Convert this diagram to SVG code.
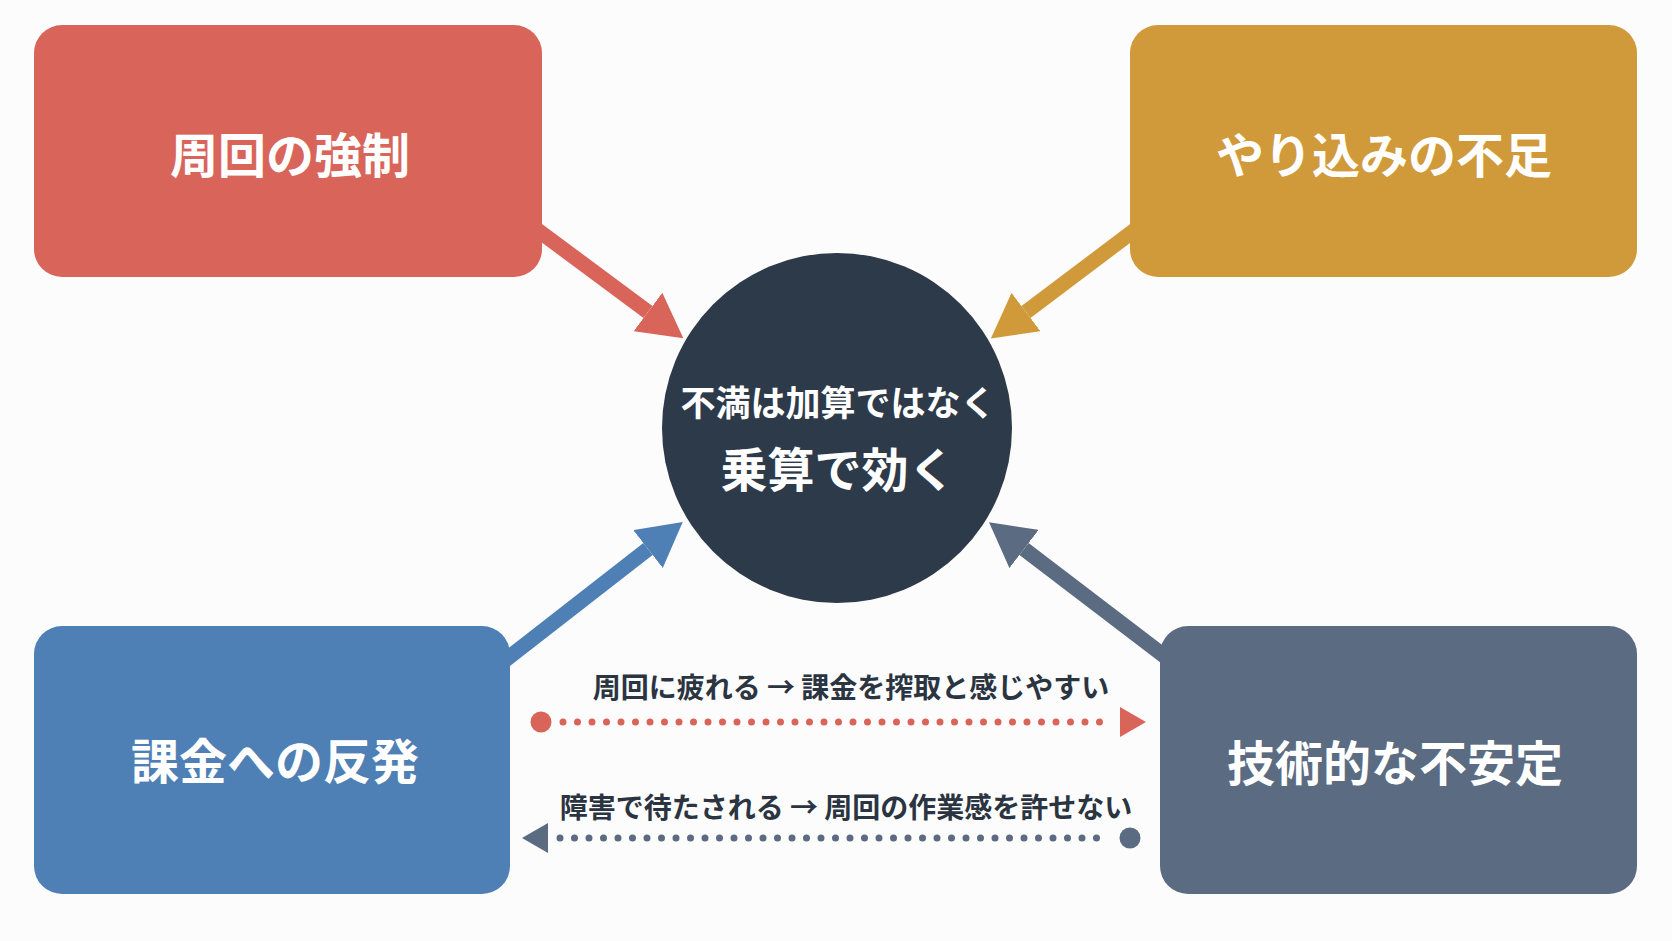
<svg xmlns="http://www.w3.org/2000/svg" width="1672" height="941" viewBox="0 0 1672 941">
<defs>
<style>
.t{font-family:"Noto Sans CJK JP","Noto Sans CJK SC",sans-serif;font-weight:700;text-anchor:middle;dominant-baseline:central}
.big{fill:#ffffff;font-size:48px}
.lbl{fill:#2b3441;font-size:28px}
.shaft{stroke-width:15;fill:none}
.dots{stroke-width:7;stroke-linecap:round;stroke-dasharray:0 14.5;fill:none}
</style>
<marker id="hr" markerUnits="userSpaceOnUse" markerWidth="46" markerHeight="48" refX="0" refY="24" orient="auto"><path d="M0,0 L44,24 L0,48 z" fill="#d9655a"/></marker>
<marker id="hy" markerUnits="userSpaceOnUse" markerWidth="46" markerHeight="48" refX="0" refY="24" orient="auto"><path d="M0,0 L44,24 L0,48 z" fill="#d09a3a"/></marker>
<marker id="hb" markerUnits="userSpaceOnUse" markerWidth="46" markerHeight="48" refX="0" refY="24" orient="auto"><path d="M0,0 L44,24 L0,48 z" fill="#4e7fb5"/></marker>
<marker id="hs" markerUnits="userSpaceOnUse" markerWidth="46" markerHeight="48" refX="0" refY="24" orient="auto"><path d="M0,0 L44,24 L0,48 z" fill="#5a6b82"/></marker>
</defs>
<rect width="1672" height="941" fill="#fcfcfc"/>
<g id="connectors">
<line class="shaft" x1="520" y1="217" x2="648" y2="312" stroke="#d9655a" marker-end="url(#hr)"/>
<line class="shaft" x1="1152" y1="217" x2="1026" y2="312" stroke="#d09a3a" marker-end="url(#hy)"/>
<line class="shaft" x1="490" y1="672" x2="648" y2="549" stroke="#4e7fb5" marker-end="url(#hb)"/>
<line class="shaft" x1="1180" y1="668" x2="1024" y2="549" stroke="#5a6b82" marker-end="url(#hs)"/>
<g id="link-red">
<circle cx="541" cy="722" r="10.5" fill="#d9655a"/>
<line class="dots" x1="563" y1="722" x2="1112" y2="722" stroke="#d9655a"/>
<path d="M1120,707 L1146,722 L1120,737 z" fill="#d9655a"/>
<text class="t lbl" x="851" y="686">周回に疲れる → 課金を搾取と感じやすい</text>
</g>
<g id="link-slate">
<circle cx="1130" cy="838" r="10.5" fill="#5a6b82"/>
<line class="dots" x1="560" y1="838" x2="1110" y2="838" stroke="#5a6b82"/>
<path d="M548,823 L522,838 L548,853 z" fill="#5a6b82"/>
<text class="t lbl" x="846" y="806">障害で待たされる → 周回の作業感を許せない</text>
</g>
</g>
<g id="node-red">
<rect x="34" y="25" width="508" height="252" rx="28" fill="#d9655a"/>
<text class="t big" x="290" y="152">周回の強制</text>
</g>
<g id="node-yellow">
<rect x="1130" y="25" width="507" height="252" rx="28" fill="#d09a3a"/>
<text class="t big" x="1384" y="152">やり込みの不足</text>
</g>
<g id="node-blue">
<rect x="34" y="626" width="476" height="268" rx="28" fill="#4e7fb5"/>
<text class="t big" x="275" y="758">課金への反発</text>
</g>
<g id="node-slate">
<rect x="1160" y="626" width="477" height="268" rx="28" fill="#5a6b82"/>
<text class="t big" x="1395" y="760">技術的な不安定</text>
</g>
<g id="node-center">
<circle cx="837" cy="428" r="175" fill="#2d3a4a"/>
<text class="t" x="838" y="400" fill="#ffffff" font-size="35">不満は加算ではなく</text>
<text class="t" x="838" y="466" fill="#ffffff" font-size="47">乗算で効く</text>
</g>
</svg>
